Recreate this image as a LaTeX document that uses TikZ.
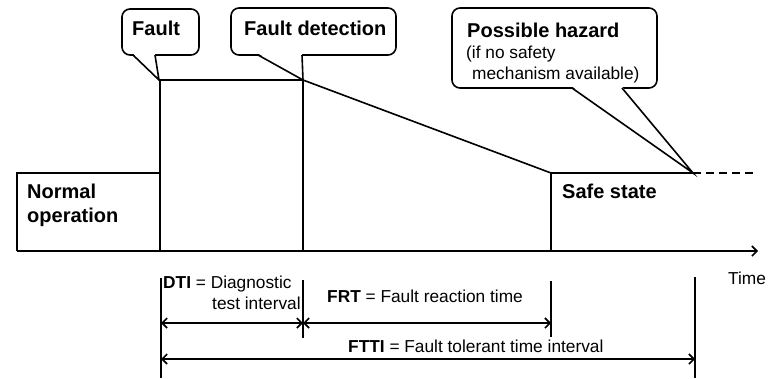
\documentclass[tikz,border=0pt]{standalone}
\usepackage{fontspec}
\setmainfont{Liberation Sans}
\usetikzlibrary{arrows.meta}
\tikzset{
  ln/.style={line width=1.6pt},
  cbox/.style={draw, line width=1.6pt, rounded corners=8pt, fill=white, inner sep=0pt},
  big/.style={font=\fontsize{20}{24}\selectfont\bfseries, inner sep=0pt, anchor=base west},
  small/.style={font=\fontsize{17.3}{20}\selectfont, inner sep=0pt, anchor=base west},
  tip/.style={Straight Barb[length=5pt,width=10pt]},
  dim/.style={line width=1.6pt, {Straight Barb[length=5pt,width=10pt]}-{Straight Barb[length=5pt,width=10pt]}},
}
% pointer of a speech bubble: base left, base right, tip
\newcommand\calloutptr[3]{%
  \fill[white] ([yshift=1.5pt]#1) -- (#3) -- ([yshift=1.5pt]#2) -- cycle;
  \draw[ln, line join=miter] (#1) -- (#3) -- (#2);}
\begin{document}
\begin{tikzpicture}[x=1pt,y=-1pt]
\useasboundingbox (0,0) rectangle (776,378);

% key points of the timeline
\coordinate (o)  at (17,251);
\coordinate (n1) at (17,173);
\coordinate (f0) at (160,251);
\coordinate (f1) at (160,173);
\coordinate (f2) at (160,80);
\coordinate (d0) at (303,251);
\coordinate (d1) at (303,80);
\coordinate (s0) at (551,251);
\coordinate (s1) at (551,173);
\coordinate (h1) at (693,173);
\coordinate (e1) at (755,173);
\coordinate (tend) at (758,251);

% state levels
\draw[ln] (o) -- (n1) -- (f1);
\draw[ln, line join=miter] (f0) -- (f2) -- (d1);
\draw[ln] (d1) -- (d0);
\draw[ln, line join=miter] (d1) -- (s1) -- (h1);
\draw[ln] (s1) -- (s0);
\draw[ln, dash pattern=on 8pt off 5pt] (h1) -- (e1);

% time axis
\draw[ln, -{Straight Barb[length=5pt,width=10pt]}] (o) -- (tend);
\node[small] (time) at (728,284) {Time};

% state labels
\node[big] (norm1) at (27,198) {Normal};
\node[big] (norm2) at (27,222) {operation};
\node[big] (safe) at (562,198) {Safe state};

% speech bubbles
\node[cbox, minimum width=77pt, minimum height=46pt] (fault) at (160.5,32) {};
\node[big] (faultt) at (132,35) {Fault};
\calloutptr{133,55}{155,55}{159,80}

\node[cbox, minimum width=165pt, minimum height=47pt] (det) at (313.5,31.5) {};
\node[big] (dett) at (244,35) {Fault detection};
\calloutptr{258,55}{302,55}{d1}

\node[cbox, minimum width=205pt, minimum height=80pt] (haz) at (554.5,48) {};
\node[big] (hazt) at (467,37) {Possible hazard};
\node[small] (haz2) at (466,58) {(if no safety};
\node[small] (haz3) at (472,79) {mechanism available)};
\calloutptr{572,88}{622,88}{h1}

% interval markers
\coordinate (m0a) at (161,278);
\coordinate (m0b) at (161,378);
\coordinate (m1a) at (303,280);
\coordinate (m1b) at (303,338);
\coordinate (m2a) at (551,281);
\coordinate (m2b) at (551,337);
\coordinate (m3a) at (695,277);
\coordinate (m3b) at (695,378);
\draw[ln] (m0a) -- (m0b);
\draw[ln] (m1a) -- (m1b);
\draw[ln] (m2a) -- (m2b);
\draw[ln] (m3a) -- (m3b);

\coordinate (a0) at (161,323);
\coordinate (a1) at (303,323);
\coordinate (a2) at (551,323);
\coordinate (b0) at (161,359);
\coordinate (b3) at (695,359);
\draw[dim] (a0) -- (a1);
\draw[dim] (a1) -- (a2);
\draw[dim] (b0) -- (b3);

\node[small] (dti1) at (163,288) {\textbf{DTI} = Diagnostic};
\node[small] (dti2) at (212,309) {test interval};
\node[small] (frt) at (327,302) {\textbf{FRT} = Fault reaction time};
\node[small] (ftti) at (348,352) {\textbf{FTTI} = Fault tolerant time interval};
\end{tikzpicture}
\end{document}
